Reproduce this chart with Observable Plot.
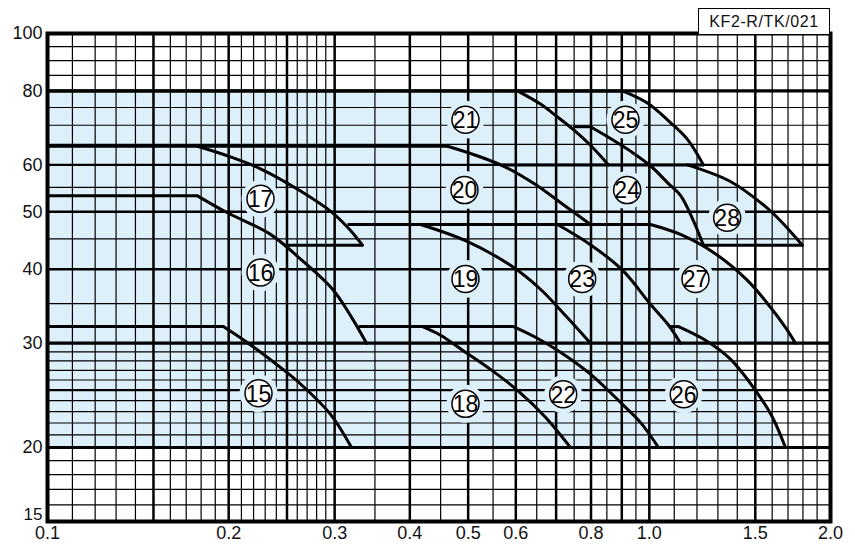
<!DOCTYPE html>
<html><head><meta charset="utf-8">
<script src="https://cdn.jsdelivr.net/npm/d3@7"></script>
<script src="https://cdn.jsdelivr.net/npm/@observablehq/plot@0.6"></script>
<style>
body{margin:0;background:#fff;}
#wrap{position:relative;width:855px;height:557px;}
#tag{position:absolute;left:698px;top:8px;width:132px;height:26px;border:1px solid #000;border-bottom:none;box-sizing:border-box;background:#fff;
font:16px "Liberation Sans",Arial,sans-serif;letter-spacing:0.6px;text-align:center;line-height:26px;color:#111;}
</style></head><body>
<div id="wrap"><div id="tag">KF2-R/TK/021</div></div>
<script>
// ---- axis ticks ----
const xTicks = [0.1,0.2,0.3,0.4,0.5,0.6,0.8,1.0,1.5,2.0];
const xTickLabels = ["0.1","0.2","0.3","0.4","0.5","0.6","0.8","1.0","1.5","2.0"];
const yTicks = [20,30,40,50,60,80,100];
const yTickLabels = ["20","30","40","50","60","80","100"];
const yBottomTick = [15];
const xGridThin = [0.11,0.12,0.13,0.14,0.16,0.17,0.18,0.19,0.21,0.22,0.23,0.24,0.26,0.27,0.28,0.29,0.35,0.45,0.55,0.65,0.75,0.85,0.95,1.1,1.2,1.3,1.4,1.6,1.7,1.8,1.9];
const xGridThick = [0.15,0.2,0.25,0.3,0.4,0.5,0.6,0.7,0.8,0.9,1.0,1.5];
const yGridThin = [16,17,18,19,21,22,23,24,26,27,28,29,35,45,55,65,70,75,85,90,95];
const yGridThick = [25,40,50,60];
const yGridHeavy = [20,30,80];

// ---- performance curves: [flow, head], from knee to end ----
const curve15 = [[0.196,32],[0.2175,29.8],[0.2439,27.3],[0.2633,25.6],[0.2953,22.75],[0.32,20]];
const curve16 = [[0.1775,53.2],[0.1976,50],[0.2347,45.8],[0.2633,41.6],[0.2976,37.0],[0.3188,33.4],[0.3389,30]];
const curve17 = [[0.1775,64.5],[0.2014,61.9],[0.2259,59.1],[0.2633,54.2],[0.2976,49.8],[0.3188,46.5],[0.3337,43.9]];
const curve18 = [[0.4199,32],[0.4498,30.95],[0.4949,28.97],[0.5446,27.1],[0.6038,24.98],[0.6721,22.5],[0.7395,20]];
const curve19 = [[0.4167,47.6],[0.4949,44.7],[0.5879,40.6],[0.6593,37.0],[0.7255,33.4],[0.7983,30]];
const curve20 = [[0.4620,64.5],[0.5142,62.3],[0.5767,59.5],[0.6469,55.6],[0.7142,51.7],[0.7983,47.6]];
const curve21 = [[0.6038,80],[0.6593,76.0],[0.7037,72.3],[0.748,68.8],[0.7983,64.75],[0.8553,60]];
const curve22 = [[0.5947,32],[0.6469,30.7],[0.7118,28.97],[0.7983,26.6],[0.9023,23.65],[0.9666,22.05],[1.0355,20]];
const curve23 = [[0.7037,47.6],[0.7983,44.0],[0.9023,39.85],[1.0043,34.9],[1.0759,32.2],[1.1265,30]];
const curve24 = [[0.7983,69.6],[0.8618,66.5],[0.9304,63.3],[1.0043,59.8],[1.0759,55.8],[1.1265,53.3],[1.1794,48.7],[1.23,43.9]];
const curve25 = [[0.9023,80],[0.9928,76.3],[1.0842,70.7],[1.157,66.25],[1.23,60]];
const curve26 = [[1.1179,32],[1.2395,30.35],[1.3639,28.2],[1.5008,24.98],[1.6017,22.5],[1.6834,20]];
const curve27 = [[1.0043,47.6],[1.1265,45.8],[1.278,42.7],[1.4555,38.3],[1.5895,34.5],[1.6834,31.9],[1.749,30]];
const curve28 = [[1.157,60],[1.3639,56.25],[1.5474,51.35],[1.6515,48.3],[1.7965,43.9]];

// ---- straight boundary segments: [flow from, flow to, head] ----
const flatLines = [
  [0.1,0.9023,80],[0.1,0.4620,64.5],[0.1,0.1775,53.2],[0.1,0.196,32],
  [0.3287,0.5947,32],[1.08,1.1179,32],[0.3151,1.0043,47.6],[0.748,0.7983,69.6],
  [0.565,1.23,60],[0.2487,0.3337,43.9],[1.23,1.7965,43.9]
];

// ---- circled model numbers ----
const labelNums = [15,16,17,18,19,20,21,22,23,24,25,26,27,28];
const labelQ = [0.2242,0.2259,0.2259,0.4949,0.4949,0.4930,0.4949,0.7192,0.7734,0.9187,0.9127,1.1408,1.193,1.3468];
const labelH = [24.7,39.5,52.6,23.7,38.5,54.4,71.5,24.6,38.5,54.4,71.5,24.6,38.5,48.86];

const curveList = [curve15,curve16,curve17,curve18,curve19,curve20,curve21,curve22,curve23,curve24,curve25,curve26,curve27,curve28];
const curveRows = curveList.flatMap((c, k) => c.map(([q, h]) => ({q, h, k})));
const labels = labelNums.map((n, i) => ({n, q: labelQ[i], h: labelH[i]}));

const FILL = "#ddf0fa";
const chart = Plot.plot({
  width: 855, height: 557,
  marginLeft: 47, marginRight: 25, marginTop: 33, marginBottom: 36,
  x: {type: "log", domain: [0.1, 2.0], axis: null},
  y: {type: "log", domain: [15, 100], axis: null},
  style: {background: "transparent", fontFamily: "'Liberation Sans', Arial, sans-serif"},
  marks: [
    Plot.areaX(curveRows, {y: "h", x1: 0.1, x2: "q", z: "k", fill: FILL, curve: "catmull-rom"}),
    Plot.ruleX(xGridThin, {stroke: "#000", strokeWidth: 1.2}),
    Plot.ruleY(yGridThin, {stroke: "#000", strokeWidth: 1.2}),
    Plot.ruleX(xGridThick, {stroke: "#000", strokeWidth: 2.5}),
    Plot.ruleY(yGridThick, {stroke: "#000", strokeWidth: 2.4}),
    Plot.ruleY(yGridHeavy, {stroke: "#000", strokeWidth: 3.2}),
    Plot.dot(labels, {x: "q", y: "h", r: 19, fill: FILL, stroke: null}),
    Plot.link(flatLines, {x1: d => d[0], x2: d => d[1], y1: d => d[2], y2: d => d[2], stroke: "#000", strokeWidth: 3}),
    Plot.line(curveRows, {x: "q", y: "h", z: "k", curve: "catmull-rom", stroke: "#000", strokeWidth: 3, strokeLinejoin: "round"}),
    Plot.frame({stroke: "#000", strokeWidth: 4}),
    Plot.dot(labels, {x: "q", y: "h", r: 13.5, fill: "#fff", stroke: "#000", strokeWidth: 1.5}),
    Plot.text(labels, {x: "q", y: "h", text: d => String(d.n), fontSize: 23, fill: "#000",
      fontFamily: "'Liberation Sans Narrow', 'Arial Narrow', 'Liberation Sans', sans-serif", letterSpacing: "-0.5px", dy: 1}),
    Plot.text(xTicks, {x: d => d, frameAnchor: "bottom", dy: 17, text: (d, i) => xTickLabels[i], fontSize: 18, fill: "#111"}),
    Plot.text(yTicks, {y: d => d, frameAnchor: "left", dx: -5, textAnchor: "end", text: (d, i) => yTickLabels[i], fontSize: 18, fill: "#111"}),
    Plot.text(yBottomTick, {y: d => d, frameAnchor: "left", dx: -5, dy: -7, textAnchor: "end", text: d => String(d), fontSize: 17, fill: "#111"})
  ]
});
document.getElementById("wrap").prepend(chart);
</script>
</body></html>
